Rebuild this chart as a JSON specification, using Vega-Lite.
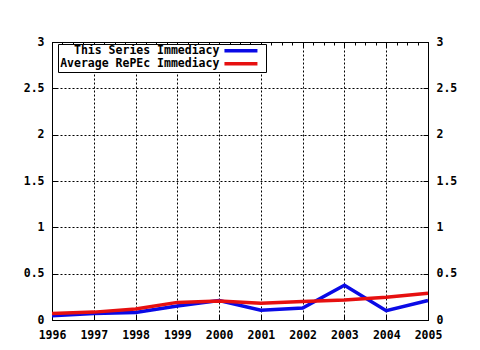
{
  "$schema": "https://vega.github.io/schema/vega-lite/v6.json",
  "width": 376,
  "height": 278,
  "autosize": "none",
  "padding": {"left": 52, "top": 42, "right": 52, "bottom": 30},
  "background": "white",
  "config": {
    "view": {"stroke": "black", "strokeWidth": 1},
    "axis": {
      "labelFont": "DejaVu Sans Mono",
      "labelFontWeight": "bold",
      "labelFontSize": 11.5,
      "labelColor": "black",
      "domainColor": "black",
      "tickColor": "black",
      "title": null,
      "gridColor": "black",
      "gridDash": [2, 2],
      "gridOpacity": 1,
      "gridWidth": 1
    }
  },
  "data": {
    "values": [
      {"year": 1996, "series": "This Series Immediacy", "value": 0.045},
      {"year": 1997, "series": "This Series Immediacy", "value": 0.07},
      {"year": 1998, "series": "This Series Immediacy", "value": 0.08},
      {"year": 1999, "series": "This Series Immediacy", "value": 0.15},
      {"year": 2000, "series": "This Series Immediacy", "value": 0.21},
      {"year": 2001, "series": "This Series Immediacy", "value": 0.105},
      {"year": 2002, "series": "This Series Immediacy", "value": 0.13},
      {"year": 2003, "series": "This Series Immediacy", "value": 0.375},
      {"year": 2004, "series": "This Series Immediacy", "value": 0.1},
      {"year": 2005, "series": "This Series Immediacy", "value": 0.21},
      {"year": 1996, "series": "Average RePEc Immediacy", "value": 0.07},
      {"year": 1997, "series": "Average RePEc Immediacy", "value": 0.085},
      {"year": 1998, "series": "Average RePEc Immediacy", "value": 0.118},
      {"year": 1999, "series": "Average RePEc Immediacy", "value": 0.19},
      {"year": 2000, "series": "Average RePEc Immediacy", "value": 0.205},
      {"year": 2001, "series": "Average RePEc Immediacy", "value": 0.18},
      {"year": 2002, "series": "Average RePEc Immediacy", "value": 0.2},
      {"year": 2003, "series": "Average RePEc Immediacy", "value": 0.215},
      {"year": 2004, "series": "Average RePEc Immediacy", "value": 0.245},
      {"year": 2005, "series": "Average RePEc Immediacy", "value": 0.288}
    ]
  },
  "layer": [
    {
      "transform": [{"filter": "datum.series === 'This Series Immediacy'"}],
      "mark": {"type": "line", "strokeWidth": 3.5},
      "encoding": {
        "x": {
          "field": "year", "type": "quantitative",
          "scale": {"domain": [1996, 2005], "nice": false, "zero": false},
          "axis": {
            "orient": "bottom",
            "values": [1996,1996.25,1996.5,1996.75,1997,1997.25,1997.5,1997.75,1998,1998.25,1998.5,1998.75,1999,1999.25,1999.5,1999.75,2000,2000.25,2000.5,2000.75,2001,2001.25,2001.5,2001.75,2002,2002.25,2002.5,2002.75,2003,2003.25,2003.5,2003.75,2004,2004.25,2004.5,2004.75,2005],
            "format": "d",
            "labelExpr": "datum.value % 1 === 0 ? datum.label : ''",
            "tickSize": {"condition": {"test": "datum.value % 1 === 0", "value": -5}, "value": -3},
            "grid": true,
            "gridOpacity": {"condition": {"test": "datum.value % 1 === 0", "value": 1}, "value": 0},
            "labelPadding": 14,
            "labelFlush": false
          }
        },
        "y": {
          "field": "value", "type": "quantitative",
          "scale": {"domain": [0, 3], "nice": false},
          "axis": {"orient": "left", "values": [0, 0.5, 1, 1.5, 2, 2.5, 3], "format": "~g", "tickSize": -5, "grid": true, "labelPadding": 13, "labelFlush": false}
        },
        "color": {
          "field": "series", "type": "nominal",
          "scale": {"domain": ["This Series Immediacy", "Average RePEc Immediacy"], "range": ["#0a0ae6", "#e61010"]},
          "legend": {
            "title": null,
            "orient": "none",
            "legendX": 6,
            "legendY": 2,
            "fillColor": "white",
            "strokeColor": "black",
            "padding": 1,
            "labelAlign": "right",
            "labelOffset": -27.3,
            "symbolOffset": 176.2,
            "symbolType": "M-5,0H5",
            "symbolSize": 43.56,
            "symbolStrokeWidth": 3.5,
            "labelFont": "DejaVu Sans Mono",
            "labelFontWeight": "bold",
            "labelFontSize": 11.5,
            "labelColor": "black",
            "labelLimit": 0,
            "rowPadding": -4
          }
        }
      }
    },
    {
      "transform": [{"filter": "datum.series === 'Average RePEc Immediacy'"}],
      "mark": {"type": "line", "strokeWidth": 3.5},
      "encoding": {
        "x": {
          "field": "year", "type": "quantitative",
          "axis": {
            "orient": "top",
            "values": [1996,1996.25,1996.5,1996.75,1997,1997.25,1997.5,1997.75,1998,1998.25,1998.5,1998.75,1999,1999.25,1999.5,1999.75,2000,2000.25,2000.5,2000.75,2001,2001.25,2001.5,2001.75,2002,2002.25,2002.5,2002.75,2003,2003.25,2003.5,2003.75,2004,2004.25,2004.5,2004.75,2005],
            "labels": false,
            "tickSize": {"condition": {"test": "datum.value % 1 === 0", "value": -5}, "value": -3},
            "grid": false
          }
        },
        "y": {
          "field": "value", "type": "quantitative",
          "axis": {"orient": "right", "values": [0, 0.5, 1, 1.5, 2, 2.5, 3], "format": "~g", "tickSize": -5, "grid": false, "labelPadding": 13, "labelFlush": false}
        },
        "color": {"field": "series", "type": "nominal"}
      }
    }
  ],
  "resolve": {"axis": {"x": "independent", "y": "independent"}}
}
